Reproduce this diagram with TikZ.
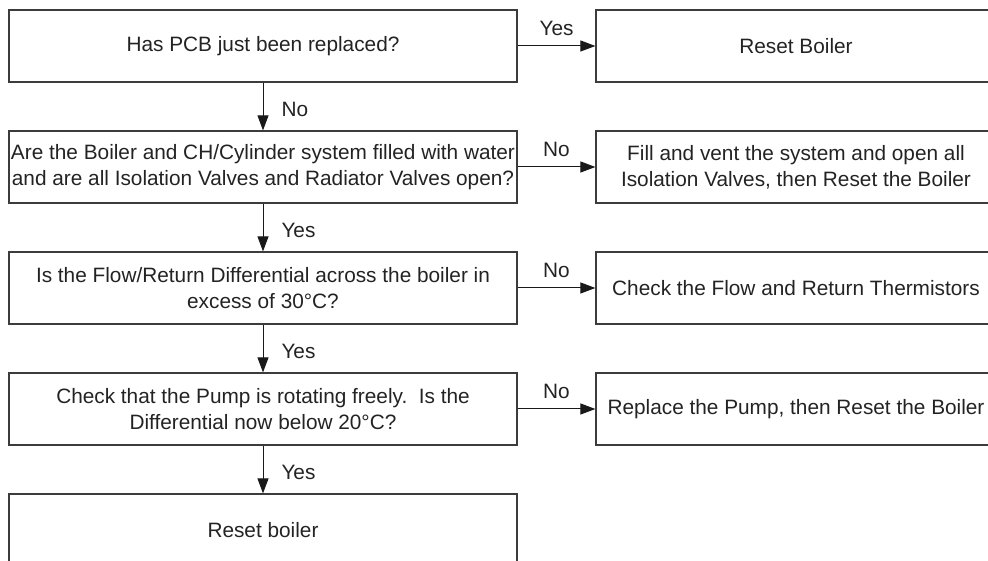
\documentclass[tikz,border=0pt]{standalone}
\usepackage{fontspec}
\setmainfont{Liberation Sans}
\usetikzlibrary{arrows.meta,positioning}
\definecolor{boxline}{RGB}{60,60,60}
\definecolor{boxtext}{RGB}{35,35,35}
\definecolor{arrline}{RGB}{25,25,25}

\begin{document}
\begin{tikzpicture}[x=1pt,y=1pt,font=\fontsize{20.8}{26}\selectfont,
  qbox/.style={draw=boxline,line width=1.2pt,minimum width=508pt,minimum height=72pt,inner xsep=0pt,inner ysep=2pt,align=center,text=boxtext},
  abox/.style={qbox,minimum width=400pt},
  flow/.style={draw=arrline,line width=1pt,-{Triangle[length=15pt,width=11pt]}},
  lbl/.style={text=boxtext,inner sep=2pt}]
\useasboundingbox (0,0) rectangle (988,560);
\clip (0,0) rectangle (988,560);
% questions down the left
\node[qbox] (pcb) at (263,514) {Has PCB just been replaced?};
\node[qbox] (filled) at (263,393) {Are the Boiler and CH/Cylinder system filled with water\\and are all Isolation Valves and Radiator Valves open?};
\node[qbox] (diff) at (263,272) {Is the Flow/Return Differential across the boiler in\\excess of 30°C?};
\node[qbox] (pump) at (263,151) {Check that the Pump is rotating freely.\ \ Is the\\Differential now below 20°C?};
\node[qbox] (done) at (263,30) {Reset boiler};
% actions on the right
\node[abox] (reset) at (796,514) {Reset Boiler};
\node[abox] (fill) at (796,393) {Fill and vent the system and open all\\Isolation Valves, then Reset the Boiler};
\node[abox] (therm) at (796,272) {Check the Flow and Return Thermistors};
\node[abox] (newpump) at (796,151) {Replace the Pump, then Reset the Boiler};
% connectors
\foreach \a/\b/\t in {pcb/filled/No,filled/diff/Yes,diff/pump/Yes,pump/done/Yes}
  \draw[flow] (\a) -- (\b) node[lbl,midway,right,xshift=16pt,yshift=-3pt] {\t};
\foreach \a/\b/\t in {pcb/reset/Yes,filled/fill/No,diff/therm/No,pump/newpump/No}
  \draw[flow] (\a) -- (\b) node[lbl,midway,above=8pt] {\t};
\end{tikzpicture}
\end{document}
